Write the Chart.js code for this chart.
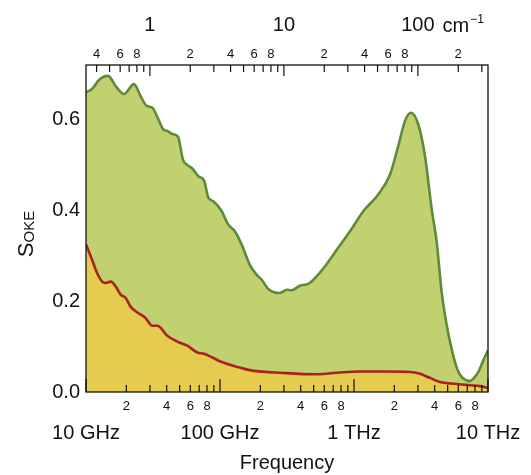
<!DOCTYPE html>
<html><head><meta charset="utf-8">
<script src="https://cdn.jsdelivr.net/npm/chart.js@4/dist/chart.umd.min.js"></script>
<style>html,body{margin:0;padding:0;background:#fff;}</style>
</head><body>
<canvas id="c" width="531" height="475"></canvas>
<script>
const GHZ_PER_WAVENUMBER = 29.9792458;

// Total OKE signal (green) : frequency in GHz, value
const totalFreqGHz = [10, 11.1, 12.5, 14.6, 16.7, 19.2, 22.8, 25.6, 28.4, 31.3, 34.0, 37.8, 40.4, 44.1, 48.6, 53.0, 57.0, 62.1, 69.7, 76.0, 81.8, 89.1, 103, 115, 129, 145, 167, 188, 205, 229, 280, 315, 343, 395, 456, 527, 608, 743, 934, 1173, 1517, 1857, 2142, 2403, 2663, 3019, 3388, 3802, 4141, 4510, 4900, 5400, 5900, 6400, 6900, 7300, 7800, 8500, 9300, 10000];
const totalValues = [0.660, 0.667, 0.687, 0.696, 0.673, 0.656, 0.678, 0.651, 0.630, 0.626, 0.606, 0.578, 0.575, 0.568, 0.562, 0.511, 0.500, 0.492, 0.474, 0.466, 0.428, 0.420, 0.398, 0.369, 0.354, 0.325, 0.280, 0.258, 0.247, 0.227, 0.218, 0.225, 0.224, 0.234, 0.238, 0.255, 0.277, 0.313, 0.354, 0.398, 0.435, 0.479, 0.542, 0.597, 0.615, 0.589, 0.519, 0.402, 0.330, 0.220, 0.150, 0.090, 0.050, 0.032, 0.026, 0.024, 0.030, 0.045, 0.072, 0.092];

// Lower component (red line, yellow fill)
const lowerFreqGHz = [10, 11.1, 12.1, 13.2, 14.0, 15.3, 16.7, 18.2, 19.8, 21.5, 24.2, 27.8, 31.2, 34.1, 40.4, 48.0, 57.0, 67.7, 76.0, 87.7, 101, 127, 174, 295, 527, 787, 1109, 1703, 2618, 3110, 3690, 4385, 5675, 7345, 8715, 10000];
const lowerValues = [0.325, 0.291, 0.262, 0.243, 0.240, 0.243, 0.232, 0.214, 0.207, 0.188, 0.175, 0.163, 0.146, 0.146, 0.124, 0.111, 0.102, 0.087, 0.084, 0.076, 0.067, 0.057, 0.047, 0.042, 0.039, 0.043, 0.045, 0.045, 0.044, 0.040, 0.031, 0.022, 0.018, 0.015, 0.013, 0.009];

// Axes
const freqMinGHz = 10, freqMaxGHz = 10000;
const bottomMajorTicks = [10, 100, 1000, 10000];
const bottomMajorLabels = ['10 GHz', '100 GHz', '1 THz', '10 THz'];
const bottomMinorTicks = [20,30,40,50,60,70,80,90,200,300,400,500,600,700,800,900,2000,3000,4000,5000,6000,7000,8000,9000];
const topMajorTicks = [1, 10, 100];
const topMajorLabels = ['1', '10', '100'];
const topMinorTicks = [0.4,0.5,0.6,0.7,0.8,0.9,2,3,4,5,6,7,8,9,20,30,40,50,60,70,80,90,200,300];
const labelledMantissas = [2, 4, 6, 8];
const yTickValues = [0, 0.2, 0.4, 0.6];
const yMax = 0.72;

const FONT = "'Liberation Sans', Arial, Helvetica, sans-serif";
const BIG = 20, SMALL = 13;
Chart.defaults.font.family = FONT;
Chart.defaults.color = '#111';

const toPoints = (xs, ys) => xs.map((x, i) => ({x: x, y: ys[i]}));
const mantissa = v => Math.round(v / Math.pow(10, Math.floor(Math.log10(v) + 1e-9)));
const minorLabel = (v) => {
  if (bottomMajorTicks.concat(topMajorTicks).some(m => Math.abs(m - v) / m < 1e-6)) return '';
  const m = mantissa(v);
  return labelledMantissas.includes(m) ? String(m) : '';
};
const sortNum = a => a.slice().sort((p, q) => p - q);

const innerTicks = {
  id: 'innerTicks',
  afterDatasetsDraw(chart) {
    const {ctx, chartArea: a, scales} = chart;
    ctx.save();
    ctx.strokeStyle = '#111';
    ctx.lineWidth = 1.2;
    ctx.beginPath();
    scales.x.ticks.forEach(t => {
      const px = scales.x.getPixelForValue(t.value);
      const major = bottomMajorTicks.some(m => Math.abs(m - t.value) / m < 1e-6);
      const len = major ? 13 : 7;
      ctx.moveTo(px, a.bottom);
      ctx.lineTo(px, a.bottom - len);
    });
    scales.xTop.ticks.forEach(t => {
      const px = scales.xTop.getPixelForValue(t.value);
      const major = topMajorTicks.some(m => Math.abs(m - t.value) / m < 1e-6);
      const len = major ? 11 : 7;
      ctx.moveTo(px, a.top);
      ctx.lineTo(px, a.top + len);
    });
    ctx.stroke();
    ctx.lineWidth = 1.3;
    ctx.strokeRect(a.left, a.top, a.right - a.left, a.bottom - a.top);
    ctx.restore();
  },
  afterDraw(chart) {
    const {ctx, scales} = chart;
    ctx.save();
    ctx.fillStyle = '#111';
    // unit on the top axis
    const s = scales.xTop2;
    const x100 = s.getPixelForValue(100);
    ctx.font = BIG + 'px ' + FONT;
    const w100 = ctx.measureText('100').width;
    let x = x100 + w100 / 2 + 8;
    const base = 32;
    ctx.textBaseline = 'alphabetic';
    ctx.textAlign = 'left';
    ctx.fillText('cm', x, base);
    x += ctx.measureText('cm').width + 1;
    ctx.font = '12px ' + FONT;
    ctx.fillText('\u22121', x, base - 9);
    // y title S_OKE
    ctx.translate(33, 234);
    ctx.rotate(-Math.PI / 2);
    ctx.font = '22px ' + FONT;
    const wS = ctx.measureText('S').width;
    ctx.font = '15px ' + FONT;
    const wSub = ctx.measureText('OKE').width;
    const start = -(wS + wSub) / 2;
    ctx.font = '22px ' + FONT;
    ctx.fillText('S', start, 0);
    ctx.font = '15px ' + FONT;
    ctx.fillText('OKE', start + wS, 1);
    ctx.restore();
  }
};

const hideScalePadding = s => { s.paddingLeft = 0; s.paddingRight = 0; s.paddingTop = 0; s.paddingBottom = 0; };
const fixRange = (s, lo, hi) => { s.min = lo; s.max = hi; };

new Chart(document.getElementById('c'), {
  type: 'line',
  data: {
    datasets: [
      {
        label: 'lower',
        data: toPoints(lowerFreqGHz, lowerValues),
        borderColor: '#a82222',
        backgroundColor: '#e6cc4e',
        borderWidth: 2.6,
        fill: 'origin',
        pointRadius: 0,
        cubicInterpolationMode: 'monotone',
        order: 0,
        xAxisID: 'x', yAxisID: 'y'
      },
      {
        label: 'total',
        data: toPoints(totalFreqGHz, totalValues),
        borderColor: '#5e8a3a',
        backgroundColor: '#c2d170',
        borderWidth: 2.6,
        fill: 'origin',
        pointRadius: 0,
        cubicInterpolationMode: 'monotone',
        order: 1,
        xAxisID: 'x', yAxisID: 'y'
      }
    ]
  },
  options: {
    responsive: false,
    animation: false,
    layout: {padding: {left: 0, right: 43, top: 0, bottom: 0}},
    plugins: {legend: {display: false}, tooltip: {enabled: false}},
    scales: {
      x: {
        type: 'logarithmic', position: 'bottom', min: freqMinGHz, max: freqMaxGHz, weight: 0, bounds: 'data',
        grid: {display: false, drawTicks: false}, border: {display: false},
        afterBuildTicks: s => { fixRange(s, freqMinGHz, freqMaxGHz); s.ticks = sortNum(bottomMajorTicks.concat(bottomMinorTicks)).map(v => ({value: v})); },
        ticks: {autoSkip: false, maxRotation: 0, padding: 7, font: {size: SMALL},
          callback: (v, i, ticks) => minorLabel(ticks[i].value)},
        afterFit: s => { s.height = 24; hideScalePadding(s); }
      },
      x2: {
        type: 'logarithmic', position: 'bottom', min: freqMinGHz, max: freqMaxGHz, weight: 1, bounds: 'data',
        grid: {display: false, drawTicks: false}, border: {display: false},
        afterBuildTicks: s => { fixRange(s, freqMinGHz, freqMaxGHz); s.ticks = bottomMajorTicks.map(v => ({value: v})); },
        ticks: {autoSkip: false, maxRotation: 0, padding: 5, font: {size: BIG},
          callback: (v, i) => bottomMajorLabels[i]},
        title: {display: true, text: 'Frequency', font: {size: BIG}, padding: {top: 0, bottom: 0}},
        afterFit: s => { s.height = 59; hideScalePadding(s); }
      },
      xTop: {
        type: 'logarithmic', position: 'top', min: freqMinGHz / GHZ_PER_WAVENUMBER, max: freqMaxGHz / GHZ_PER_WAVENUMBER, weight: 0, bounds: 'data',
        grid: {display: false, drawTicks: false}, border: {display: false},
        afterBuildTicks: s => { fixRange(s, freqMinGHz / GHZ_PER_WAVENUMBER, freqMaxGHz / GHZ_PER_WAVENUMBER); s.ticks = sortNum(topMajorTicks.concat(topMinorTicks)).map(v => ({value: v})); },
        ticks: {autoSkip: false, maxRotation: 0, padding: 3, font: {size: SMALL},
          callback: (v, i, ticks) => minorLabel(ticks[i].value)},
        afterFit: s => { s.height = 22; hideScalePadding(s); }
      },
      xTop2: {
        type: 'logarithmic', position: 'top', min: freqMinGHz / GHZ_PER_WAVENUMBER, max: freqMaxGHz / GHZ_PER_WAVENUMBER, weight: 1, bounds: 'data',
        grid: {display: false, drawTicks: false}, border: {display: false},
        afterBuildTicks: s => { fixRange(s, freqMinGHz / GHZ_PER_WAVENUMBER, freqMaxGHz / GHZ_PER_WAVENUMBER); s.ticks = topMajorTicks.map(v => ({value: v})); },
        ticks: {autoSkip: false, maxRotation: 0, padding: 6, font: {size: BIG},
          callback: (v, i) => topMajorLabels[i]},
        afterFit: s => { s.height = 43; hideScalePadding(s); }
      },
      y: {
        type: 'linear', position: 'left', min: 0, max: yMax,
        grid: {display: false, drawTicks: false}, border: {display: false},
        afterBuildTicks: s => { fixRange(s, 0, yMax); s.ticks = yTickValues.map(v => ({value: v})); },
        ticks: {padding: 6, font: {size: BIG}, callback: v => Number(v).toFixed(1)},
        afterFit: s => { s.width = 86; hideScalePadding(s); }
      }
    }
  },
  plugins: [innerTicks]
});
</script>
</body></html>
